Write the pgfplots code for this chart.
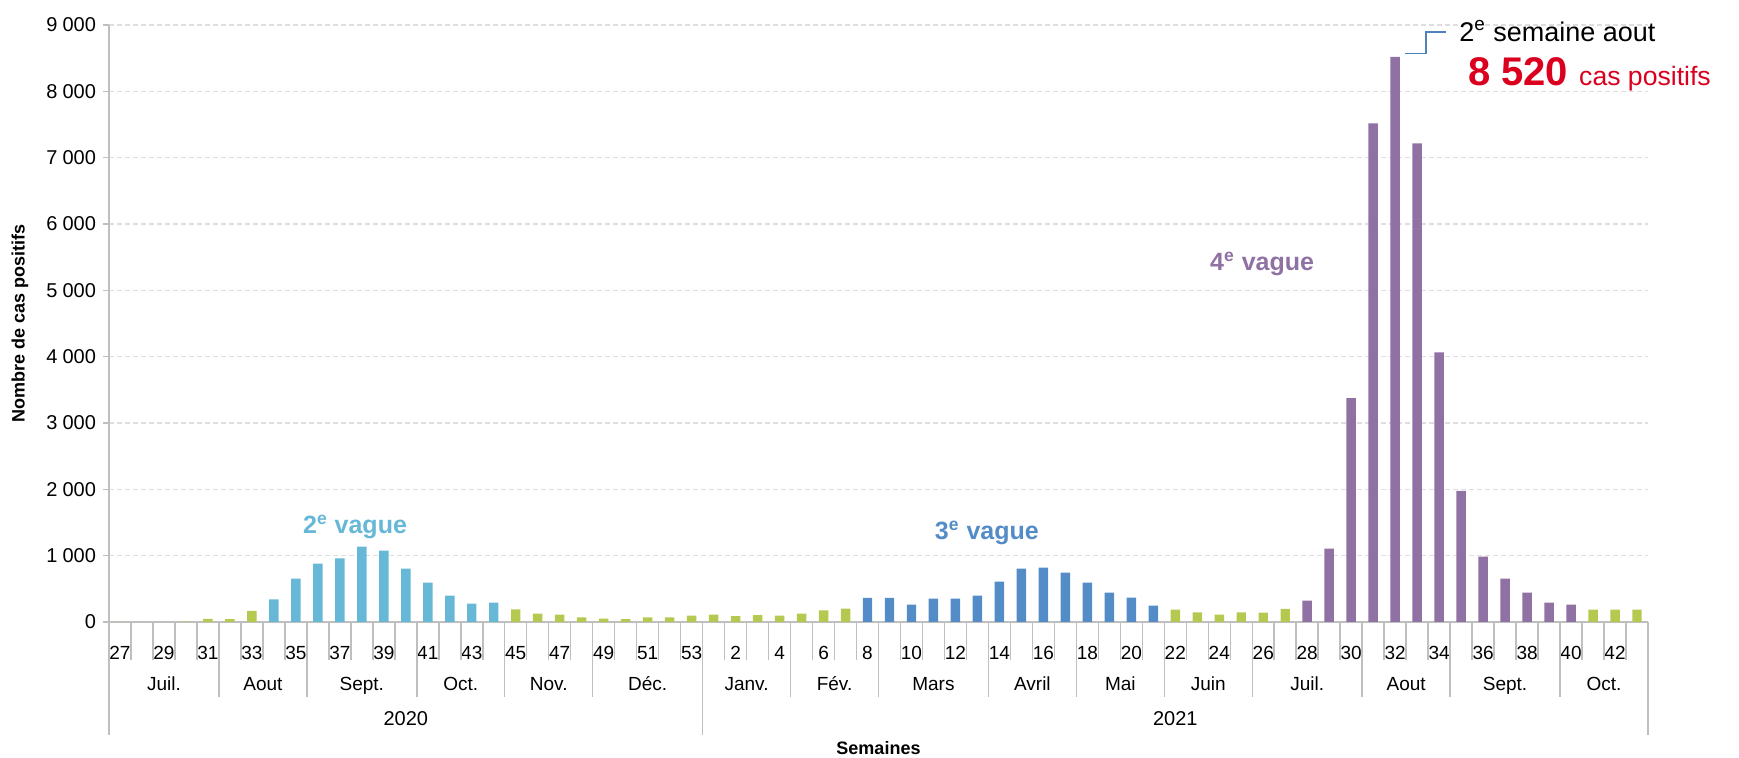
\documentclass[border=0pt]{standalone}
\usepackage{fontspec}
\setmainfont{Liberation Sans}
\usepackage{pgfplots}
\pgfplotsset{compat=1.18}
\definecolor{cgreen}{RGB}{181,201,80}
\definecolor{clblue}{RGB}{102,184,214}
\definecolor{cblue}{RGB}{84,140,199}
\definecolor{cpurple}{RGB}{143,113,164}
\definecolor{cred}{RGB}{218,0,30}
\definecolor{cgrid}{RGB}{222,222,222}
\definecolor{caxis}{RGB}{191,191,191}
\definecolor{cleader}{RGB}{79,129,189}
\begin{document}
\begin{tikzpicture}
\useasboundingbox (-54.5pt,-68pt) rectangle (815pt,311pt);
\begin{axis}[
  scale only axis, width=769.5pt, height=298.5pt,
  xmin=0, xmax=70, ymin=0, ymax=9000,
  clip=false,
  axis x line*=bottom, axis y line*=left,
  axis line style={caxis, line width=0.75pt},
  ytick={0,1000,...,9000},
  scaled y ticks=false,
  ymajorgrids,
  major grid style={cgrid, dash pattern=on 2.5pt off 1.5pt, line width=0.6pt},
  tick align=outside, major tick length=3pt,
  ytick style={caxis, line width=0.75pt},
  xtick style={draw=none},
  yticklabel style={font=\fontsize{10}{12}\selectfont, text=black},
  /pgf/number format/.cd, 1000 sep={\hspace{0.25em}}, assume math mode=true,
  /pgfplots/.cd,
  xtick={0.5,2.5,...,68.5},
  xticklabels={27,29,31,33,35,37,39,41,43,45,47,49,51,53,2,4,6,8,10,12,14,16,18,20,22,24,26,28,30,32,34,36,38,40,42},
  xticklabel style={font=\fontsize{9.5}{11}\selectfont, anchor=base, yshift=-16pt, text=black},
]
\addplot[ybar, bar width=0.43, bar shift=0pt, fill=cgreen, draw=none] coordinates {
(0.5,0)(1.5,0)(2.5,0)(3.5,5)(4.5,48)(5.5,42)(6.5,168)
(18.5,191)(19.5,126)(20.5,111)(21.5,70)(22.5,50)(23.5,45)(24.5,70)(25.5,70)(26.5,95)
(27.5,111)(28.5,90)(29.5,105)(30.5,95)(31.5,126)(32.5,176)(33.5,201)
(48.5,186)(49.5,146)(50.5,111)(51.5,146)(52.5,141)(53.5,196)
(67.5,186)(68.5,186)(69.5,186)};
\addplot[ybar, bar width=0.43, bar shift=0pt, fill=clblue, draw=none] coordinates {
(7.5,342)(8.5,655)(9.5,879)(10.5,960)(11.5,1136)(12.5,1075)(13.5,804)(14.5,593)(15.5,397)(16.5,276)(17.5,291)};
\addplot[ybar, bar width=0.43, bar shift=0pt, fill=cblue, draw=none] coordinates {
(34.5,365)(35.5,365)(36.5,261)(37.5,352)(38.5,352)(39.5,397)(40.5,608)(41.5,804)(42.5,819)(43.5,744)(44.5,593)(45.5,442)(46.5,367)(47.5,246)};
\addplot[ybar, bar width=0.43, bar shift=0pt, fill=cpurple, draw=none] coordinates {
(54.5,322)(55.5,1106)(56.5,3373)(57.5,7515)(58.5,8520)(59.5,7214)(60.5,4066)(61.5,1975)(62.5,985)(63.5,653)(64.5,442)(65.5,291)(66.5,261)};

% category separators
\pgfplotsinvokeforeach{0,...,70}{\draw[caxis, line width=0.75pt] (axis cs:#1,0) -- ++(0,-19pt);}
\pgfplotsinvokeforeach{0,5,9,14,18,22,27,31,35,40,44,48,52,57,61,66,70}{\draw[caxis, line width=0.75pt] (axis cs:#1,0) -- ++(0,-37.5pt);}
\pgfplotsinvokeforeach{0,27,70}{\draw[caxis, line width=0.75pt] (axis cs:#1,0) -- ++(0,-56.5pt);}

% month labels
\tikzset{mon/.style={anchor=base, yshift=-34.5pt, font=\fontsize{9.5}{11}\selectfont}}
\node[mon] at (axis cs:2.5,0) {Juil.};
\node[mon] at (axis cs:7,0) {Aout};
\node[mon] at (axis cs:11.5,0) {Sept.};
\node[mon] at (axis cs:16,0) {Oct.};
\node[mon] at (axis cs:20,0) {Nov.};
\node[mon] at (axis cs:24.5,0) {Déc.};
\node[mon] at (axis cs:29,0) {Janv.};
\node[mon] at (axis cs:33,0) {Fév.};
\node[mon] at (axis cs:37.5,0) {Mars};
\node[mon] at (axis cs:42,0) {Avril};
\node[mon] at (axis cs:46,0) {Mai};
\node[mon] at (axis cs:50,0) {Juin};
\node[mon] at (axis cs:54.5,0) {Juil.};
\node[mon] at (axis cs:59,0) {Aout};
\node[mon] at (axis cs:63.5,0) {Sept.};
\node[mon] at (axis cs:68,0) {Oct.};
% year labels
\node[anchor=base, yshift=-52pt, font=\fontsize{10}{12}\selectfont] at (axis cs:13.5,0) {2020};
\node[anchor=base, yshift=-52pt, font=\fontsize{10}{12}\selectfont] at (axis cs:48.5,0) {2021};
% axis titles
\node[anchor=base, yshift=-66.5pt, font=\bfseries\fontsize{9}{11}\selectfont] at (axis cs:35,0) {Semaines};
\node[rotate=90, font=\bfseries\fontsize{9}{11}\selectfont] at ([xshift=-44.5pt]rel axis cs:0,0.5) {Nombre de cas positifs};

% wave labels
\node[anchor=base, font=\bfseries\fontsize{12.5}{15}\selectfont, text=clblue] at (axis cs:11.19,1341) {2\textsuperscript{e} vague};
\node[anchor=base, font=\bfseries\fontsize{12.5}{15}\selectfont, text=cblue] at (axis cs:39.93,1250) {3\textsuperscript{e} vague};
\node[anchor=base, font=\bfseries\fontsize{12.5}{15}\selectfont, text=cpurple] at (axis cs:52.45,5304) {4\textsuperscript{e} vague};

% peak annotation
\draw[cleader, line width=0.75pt] (axis cs:58.94,8569) -- (axis cs:59.9,8569) -- (axis cs:59.9,8894) -- (axis cs:60.8,8894);
\node[anchor=base west, inner sep=0pt, font=\fontsize{13.5}{16}\selectfont] at (axis cs:61.4,8758) {2\textsuperscript{e} semaine aout};
\node[anchor=base west, inner sep=0pt, text=cred] at (axis cs:61.8,8091) {{\bfseries\fontsize{20}{24}\selectfont 8 520}\hspace{5.5pt}{\fontsize{13.3}{16}\selectfont cas positifs}};
\end{axis}
\end{tikzpicture}
\end{document}
